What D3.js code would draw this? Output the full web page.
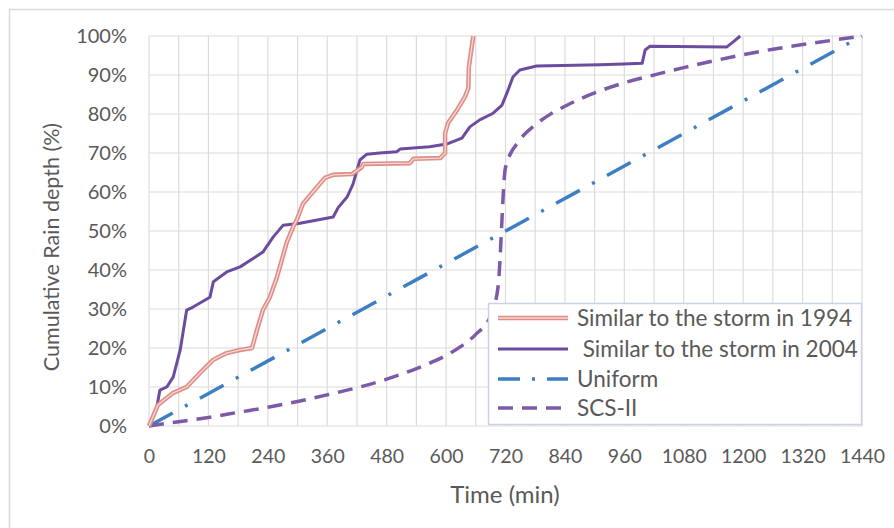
<!DOCTYPE html>
<html><head><meta charset="utf-8">
<script src="https://cdn.jsdelivr.net/npm/d3@7"></script>
<style>
body{margin:0;background:#fff;}
text{font-family:Lato,"Open Sans",sans-serif;fill:#595959;}
</style></head>
<body><svg id="c" width="894" height="528"></svg>
<script>
const xTicks = [0,120,240,360,480,600,720,840,960,1080,1200,1320,1440];
const xGrid = d3.range(0,1441,60);
const yTicks = [0,10,20,30,40,50,60,70,80,90,100];

const time1994 = [0,18,49,76,103,130,157,184,208,218,230,244,258,275,278,291,299,311,331,355,372,410,430,433,527,534,588,598,598,604,622,638,645,646,655];
const depth1994 = [0,5.4,8.5,10,13.6,17,18.7,19.5,20,24.6,29.7,33,38,45.6,47,51,53,57,60,63.6,64.4,64.6,66.4,67.2,67.4,68.5,68.7,70,75,77.7,81,84.4,86.6,92,100];

const time2004 = [0,16,22,36,49,63,76,89,123,130,143,157,184,211,230,251,271,305,372,382,400,412,426,440,466,500,507,567,601,632,648,668,695,713,723,735,749,783,911,958,996,1002,1012,1167,1180,1194];
const depth2004 = [0,5,9.2,10,12.6,19.5,29.7,30.5,33,37,38.2,39.5,40.8,43,44.6,48.5,51.5,52,53.6,56,58.7,62,68.2,69.7,70,70.3,71,71.6,72.3,73.8,76.7,78.5,80.2,82.3,85.4,89.5,91.3,92.3,92.6,92.8,93,96.4,97.4,97.2,98.5,100];

const timeUniform = [0,1440];
const depthUniform = [0,100];

const timeSCS = [0,60,120,180,240,300,360,420,480,510,540,570,600,630,660,690,705,720,750,780,810,840,900,960,1020,1080,1140,1200,1260,1320,1380,1440];
const depthSCS = [0,1.1,2.2,3.5,4.8,6.3,8.0,9.8,12.0,13.3,14.7,16.3,18.1,20.4,23.5,28.3,35.7,66.3,73.5,77.2,79.9,82.0,85.4,88.0,90.0,91.9,93.6,95.2,96.6,97.8,98.9,100];

const seriesNames = ["Similar to the storm in 1994"," Similar to the storm in 2004","Uniform","SCS-II"];

const svg = d3.select("#c");
const L=149, R=862, T=36, B=426;
const x = d3.scaleLinear().domain([0,1440]).range([L,R]);
const y = d3.scaleLinear().domain([0,100]).range([B,T]);

// outer border
svg.append("rect").attr("x",9.5).attr("y",9.5).attr("width",900).attr("height",540)
  .attr("fill","#fff").attr("stroke","#d9d9d9").attr("stroke-width",1.5);

// grid
const g = svg.append("g");
g.selectAll(".vg").data(xGrid).join("line")
  .attr("x1",d=>x(d)).attr("x2",d=>x(d)).attr("y1",T).attr("y2",B)
  .attr("stroke","#dcdcdc").attr("stroke-width",1.2);
g.selectAll(".hg").data(yTicks).join("line")
  .attr("x1",L).attr("x2",R).attr("y1",d=>y(d)).attr("y2",d=>y(d))
  .attr("stroke","#dcdcdc").attr("stroke-width",1.2);

// axes labels
const xAxis = d3.axisBottom(x).tickValues(xTicks).tickSize(0).tickPadding(22).tickFormat(d3.format("d"));
const xa = svg.append("g").attr("transform",`translate(0,${B})`).call(xAxis);
xa.select(".domain").remove();
xa.selectAll("text").attr("font-size",19.5).style("font-family","Lato").attr("fill","#595959").attr("dy","0.32em").attr("y",31);

const yAxis = d3.axisLeft(y).tickValues(yTicks).tickSize(0).tickPadding(22).tickFormat(d=>d+"%");
const ya = svg.append("g").attr("transform",`translate(${L},0)`).call(yAxis);
ya.select(".domain").remove();
ya.selectAll("text").attr("font-size",20).style("font-family","Lato").attr("fill","#595959");

svg.append("text").attr("x",505).attr("y",503).attr("text-anchor","middle").attr("font-size",24).text("Time (min)");
svg.append("text").attr("transform","translate(59,247) rotate(-90)").attr("text-anchor","middle").attr("font-size",21.5).text("Cumulative Rain depth (%)");

const line = d3.line().x(d=>x(d[0])).y(d=>y(d[1]));
const lineSmooth = d3.line().x(d=>x(d[0])).y(d=>y(d[1])).curve(d3.curveMonotoneX);
const zip = (a,b)=>a.map((v,i)=>[v,b[i]]);

const cUni = "#3d7fc2", cSCS = "#7b5ba8", c04 = "#6c4c9e", c94o = "#de8d87", c94i = "#f8d9d5";

svg.append("path").datum(zip(timeUniform,depthUniform)).attr("d",line)
  .attr("fill","none").attr("stroke",cUni).attr("stroke-width",3.5).attr("stroke-dasharray","27,14,3,14");
svg.append("path").datum(zip(timeSCS,depthSCS)).attr("d",lineSmooth)
  .attr("fill","none").attr("stroke",cSCS).attr("stroke-width",3.5).attr("stroke-dasharray","15,9");
svg.append("path").datum(zip(time2004,depth2004)).attr("d",line)
  .attr("fill","none").attr("stroke",c04).attr("stroke-width",3).attr("stroke-linejoin","round");
svg.append("path").datum(zip(time1994,depth1994)).attr("d",line)
  .attr("fill","none").attr("stroke",c94o).attr("stroke-width",4.5).attr("stroke-linejoin","round");
svg.append("path").datum(zip(time1994,depth1994)).attr("d",line)
  .attr("fill","none").attr("stroke",c94i).attr("stroke-width",1.3).attr("stroke-linejoin","round");

// legend
const lg = svg.append("g");
lg.append("rect").attr("x",488.5).attr("y",303.5).attr("width",373).attr("height",121)
  .attr("fill","#fff").attr("stroke","#c9d1e3").attr("stroke-width",1.5);
const ly = [318,349,379,408];
const styles = [
  {stroke:c94o,w:4.5,dash:null,inner:true},
  {stroke:c04,w:3,dash:null},
  {stroke:cUni,w:3.5,dash:"22,12,3,12"},
  {stroke:cSCS,w:3.5,dash:"15,9"}
];
seriesNames.forEach((n,i)=>{
  const s = styles[i];
  const l = lg.append("line").attr("x1",498).attr("x2",568).attr("y1",ly[i]).attr("y2",ly[i])
    .attr("stroke",s.stroke).attr("stroke-width",s.w);
  if(s.dash) l.attr("stroke-dasharray",s.dash);
  if(s.inner) lg.append("line").attr("x1",498).attr("x2",568).attr("y1",ly[i]).attr("y2",ly[i])
    .attr("stroke",c94i).attr("stroke-width",1.3);
  lg.append("text").attr("x",577).attr("y",ly[i]).attr("dy","0.35em").attr("font-size",22.5)
    .style("white-space","pre").text(n);
});
</script></body></html>
